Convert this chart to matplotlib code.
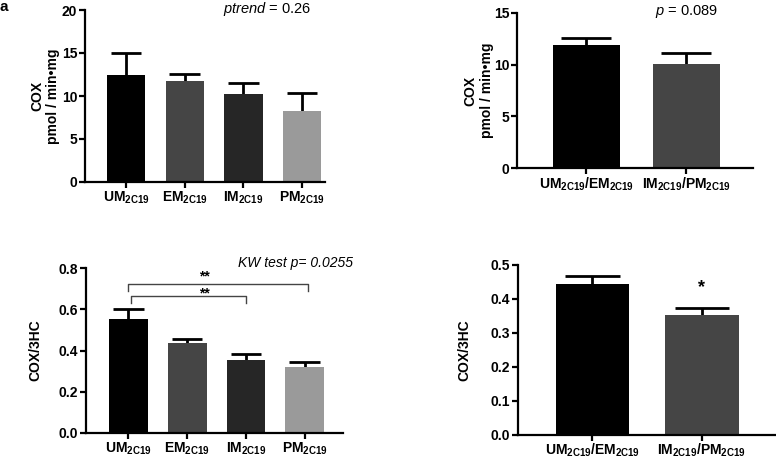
import matplotlib
matplotlib.use("Agg")
import matplotlib.pyplot as plt

plt.rcParams["font.family"] = ["Liberation Sans", "DejaVu Sans"]
plt.rcParams["mathtext.fontset"] = "custom"
plt.rcParams["mathtext.rm"] = "Liberation Sans"
plt.rcParams["mathtext.bf"] = "Liberation Sans:bold"
plt.rcParams["mathtext.it"] = "Liberation Sans:italic"

# data
groups4 = [r"$\mathbf{UM_{2C19}}$", r"$\mathbf{EM_{2C19}}$", r"$\mathbf{IM_{2C19}}$", r"$\mathbf{PM_{2C19}}$"]
groups2 = [r"$\mathbf{UM_{2C19}/EM_{2C19}}$", r"$\mathbf{IM_{2C19}/PM_{2C19}}$"]
colors4 = ["#000000", "#454545", "#262626", "#9a9a9a"]
colors2 = ["#000000", "#454545"]

cox4 = [12.45, 11.78, 10.2, 8.26]
cox4_err = [2.5, 0.78, 1.3, 2.04]
cox2 = [11.93, 10.05]
cox2_err = [0.65, 1.07]
ratio4 = [0.554, 0.436, 0.352, 0.318]
ratio4_err = [0.049, 0.021, 0.031, 0.028]
ratio2 = [0.445, 0.352]
ratio2_err = [0.023, 0.023]

W, H = 776, 458
fig = plt.figure(figsize=(W / 100, H / 100), dpi=100)


def px_axes(l, r, b, t):
    return fig.add_axes([l / W, 1 - b / H, (r - l) / W, (b - t) / H])


def style(ax, labels, ylabel, ticks, tickfmt, lpad, xpad=1.5):
    for s in ["top", "right"]:
        ax.spines[s].set_visible(False)
    for s in ["left", "bottom"]:
        ax.spines[s].set_linewidth(1.6)
    ax.set_xticks(range(len(labels)))
    ax.set_xticklabels(labels, fontsize=10)
    ax.set_yticks(ticks)
    ax.set_yticklabels([tickfmt.format(t) for t in ticks], fontsize=10, fontweight="bold")
    ax.tick_params(axis="y", width=1.6, length=4, direction="out", pad=1.5)
    ax.tick_params(axis="x", width=1.6, length=4, direction="out", pad=xpad)
    ax.set_ylabel(ylabel, fontsize=10, fontweight="bold", labelpad=lpad)


def bars(ax, vals, errs, colors, width, hw):
    x = list(range(len(vals)))
    tops = [v + e for v, e in zip(vals, errs)]
    ax.bar(x, vals, width=width, color=colors, zorder=2)
    ax.vlines(x, vals, tops, color="black", lw=2, zorder=1)
    ax.hlines(tops, [i - hw for i in x], [i + hw for i in x], color="black", lw=2, zorder=1)


# panel A
axA = px_axes(85, 325, 182, 10)
bars(axA, cox4, cox4_err, colors4, 0.65, 0.26)
axA.set_xlim(-0.7, 3.39)
axA.set_ylim(0, 20)
style(axA, groups4, "COX\npmol / min•mg", [0, 5, 10, 15, 20], "{:g}", 1)

# panel B
axB = px_axes(517, 753, 168, 13)
bars(axB, cox2, cox2_err, colors2, 0.67, 0.25)
axB.set_xlim(-0.695, 1.67)
axB.set_ylim(0, 15)
style(axB, groups2, "COX\npmol / min•mg", [0, 5, 10, 15], "{:g}", 0)

# panel C
axC = px_axes(86, 343, 433, 268)
bars(axC, ratio4, ratio4_err, colors4, 0.66, 0.26)
axC.set_xlim(-0.72, 3.65)
axC.set_ylim(0, 0.8)
style(axC, groups4, "COX/3HC", [0, 0.2, 0.4, 0.6, 0.8], "{:.1f}", 12)
axC.plot([0, 0, 3.05, 3.05], [0.69, 0.722, 0.722, 0.688], color="#444444", lw=1, clip_on=False)
axC.plot([0.05, 0.05, 2, 2], [0.632, 0.662, 0.662, 0.63], color="#444444", lw=1, clip_on=False)
axC.text(1.3, 0.757, "**", ha="center", va="center", fontsize=10, fontweight="bold")
axC.text(1.3, 0.676, "**", ha="center", va="center", fontsize=10, fontweight="bold")

# panel D
axD = px_axes(518, 776, 435, 265)
bars(axD, ratio2, ratio2_err, colors2, 0.67, 0.25)
axD.set_xlim(-0.677, 1.675)
axD.set_ylim(0, 0.5)
style(axD, groups2, "COX/3HC", [0, 0.1, 0.2, 0.3, 0.4, 0.5], "{:.1f}", 14, xpad=0.5)
axD.text(1, 0.435, "*", ha="center", va="center", fontsize=13, fontweight="bold")

fig.text(267 / W, 1 - 9 / H, r"$\it{ptrend}$ = 0.26", ha="center", va="center", fontsize=10.5)
fig.text(686 / W, 1 - 11 / H, r"$\it{p}$ = 0.089", ha="center", va="center", fontsize=10.5)
fig.text(296 / W, 1 - 263 / H, "KW test p= 0.0255", ha="center", va="center",
         fontsize=10, style="italic")
fig.text(0.0, 1.0, "a", ha="left", va="top", fontsize=11, fontweight="bold")

fig.savefig("out.png", dpi=100)
